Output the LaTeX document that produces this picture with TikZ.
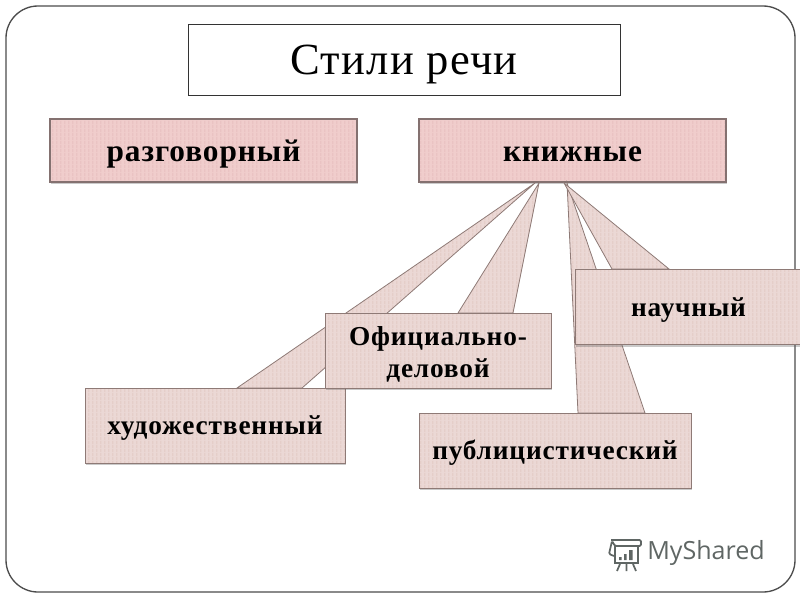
\documentclass[tikz,border=0pt]{standalone}
\usepackage{fontspec}
\setmainfont[LetterSpace=3]{Liberation Serif}
\newfontfamily\logofont{Open Sans}
\usetikzlibrary{shadows, patterns}

\pgfdeclarepatternformonly{softstripes}{\pgfqpoint{0pt}{0pt}}{\pgfqpoint{3pt}{3pt}}{\pgfqpoint{3pt}{3pt}}{
	\pgfpathrectangle{\pgfqpoint{0pt}{0pt}}{\pgfqpoint{1.3pt}{3pt}}
	\pgfusepath{fill}
}

\definecolor{rosebox}{HTML}{F0CDCC}
\definecolor{rosestripe}{HTML}{EAC3C3}
\definecolor{callbox}{HTML}{EBD8D5}
\definecolor{callstripe}{HTML}{E5CEC9}
\definecolor{callline}{HTML}{8E7A76}
\definecolor{logogray}{HTML}{5F6664}

\begin{document}
\begin{tikzpicture}[
		x=0.75pt, y=-0.75pt,
		softshadow/.style={drop shadow={shadow xshift=0.8pt, shadow yshift=-1.8pt, opacity=0.35, fill=black!60}},
		rosenode/.style={draw=black!45!rosebox, line width=0.8pt, minimum width=230.25pt, minimum height=47.25pt,
			softshadow, preaction={fill=rosebox}, pattern=softstripes, pattern color=rosestripe,
			font=\fontsize{23.5}{26}\selectfont\bfseries, text=black, text height=15.8pt, text depth=0pt},
		callnode/.style={draw=callline, line width=0.6pt, minimum height=56.25pt,
			softshadow, preaction={fill=callbox}, pattern=softstripes, pattern color=callstripe,
			font=\fontsize{20.5}{24}\selectfont\bfseries, text=black, align=center, text height=14.2pt, text depth=0pt},
		wedgepart/.style={draw=callline, line width=0.6pt, preaction={fill=callbox}, pattern=softstripes, pattern color=callstripe}
		]
		\useasboundingbox (0,0) rectangle (800,600);
		\clip (0,0) rectangle (800,600);
		
		% --- FRAME ---
		\draw[line width=1pt, draw=black!70, rounded corners=24pt] (6,6) rectangle (795,592);
		
		% --- TITLE ---
		\node[draw=black!80, line width=0.7pt, fill=white, minimum width=324pt, minimum height=53.25pt, font=\fontsize{33.4}{38}\selectfont, text height=21.8pt, text depth=0pt] (title) at (404,59.5) {Стили речи};
		
		% --- TOP BOXES ---
		\node[rosenode] (razg) at (203.5,150.5) {разговорный};
		\node[rosenode] (kniz) at (572.5,150.5) {книжные};
		
		% --- WEDGE POINTS ---
		\coordinate (apexh) at (535,183);
		\coordinate (apexo) at (539,183);
		\coordinate (apexp) at (567,183);
		\coordinate (apexn) at (564,183);
		
		% Художественный (wedge, then box)
		\draw[wedgepart] (237,388) -- (apexh) -- (302,388) -- cycle;
		\node[callnode, minimum width=195pt] (hud) at (215,425.5) {художественный};
		
		% Официально-деловой
		\draw[wedgepart] (458,313) -- (apexo) -- (513,313) -- cycle;
		\node[callnode, minimum width=169.5pt, text height=40pt, text depth=0pt] (ofic) at (438,350.5) {Официально-\\деловой};
		
		% Публицистический
		\draw[wedgepart] (578,413) -- (apexp) -- (645,413) -- cycle;
		\node[callnode, minimum width=204pt] (publ) at (555,450.5) {публицистический};
		
		% Научный (runs off the right edge)
		\draw[wedgepart] (612,269) -- (apexn) -- (669,269) -- cycle;
		\node[callnode, minimum width=170.25pt] (nauc) at (688.5,307) {научный};
		
		% --- LOGO ---
		\node[font=\logofont\fontsize{18.8}{22}\selectfont, text=logogray, anchor=west, inner sep=0pt] (logo) at (647,553) {MyShared};
		\draw[logogray, line width=1.3pt, rounded corners=1pt] (611,540) -- (641,540) -- (641,546) -- (615,546) -- (612,541) -- (609,554) -- (614,556);
		\draw[logogray, line width=1.3pt] (615,546) rectangle (638,563);
		\fill[logogray] (619,557) rectangle (621.5,560) (624,554) rectangle (626.5,560) (629,550) rectangle (632.5,560);
		\draw[logogray, line width=1.3pt] (620,564) -- (617,571) (626.5,564) -- (626.5,571) (633,564) -- (636,571);
		
	\end{tikzpicture}
\end{document}
